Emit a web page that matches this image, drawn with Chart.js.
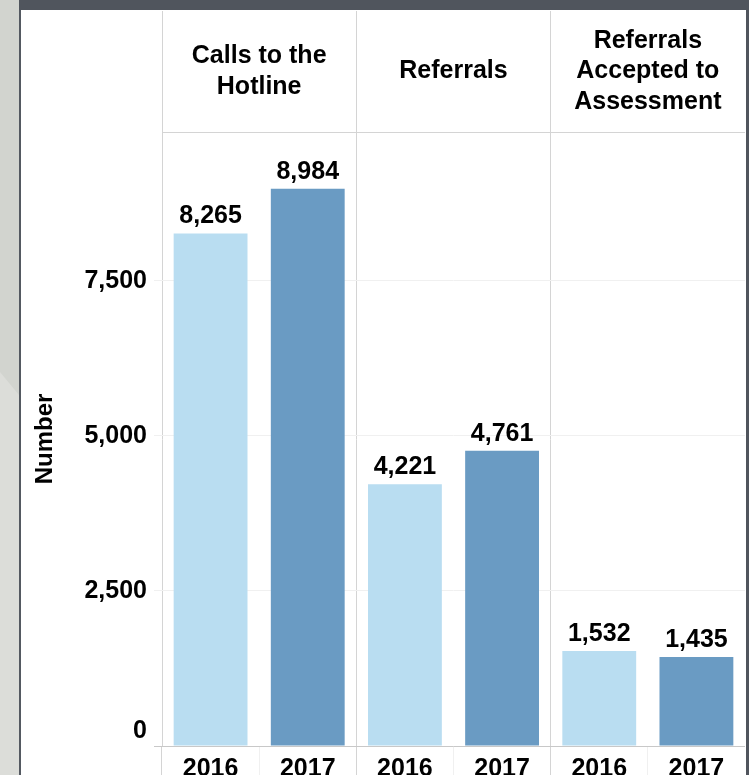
<!DOCTYPE html>
<html>
<head>
<meta charset="utf-8">
<script src="https://cdn.jsdelivr.net/npm/chart.js@4.4.0/dist/chart.umd.min.js"></script>
<style>
    body { margin: 0; width: 749px; height: 775px; overflow: hidden; position: relative; background: #dcddd9; }
    #shade { position: absolute; left: 0; top: 0; width: 19px; height: 775px; background: #d2d4cf; clip-path: polygon(0 0, 19px 0, 19px 395px, 0 372px); }
    #frameL { position: absolute; left: 19px; top: 0; width: 2px; height: 775px; background: #545961; }
    #frameT { position: absolute; left: 19px; top: 0; width: 730px; height: 10px; background: #50555d; }
    #frameR { position: absolute; left: 746px; top: 0; width: 3px; height: 775px; background: #50555d; }
    #panel { position: absolute; left: 21px; top: 10px; width: 725px; height: 765px; background: #fff; }
    #chart { position: absolute; left: 21px; top: 11px; }
</style>
</head>
<body>
<div id="shade"></div>
<div id="frameL"></div>
<div id="frameT"></div>
<div id="frameR"></div>
<div id="panel"></div>
<canvas id="chart" width="724" height="764"></canvas>
<script>
// datos
const categories = [["Calls to the", "Hotline"], ["Referrals"], ["Referrals", "Accepted to", "Assessment"]];
const years = ["2016", "2017"];
const values2016 = [8265, 4221, 1532];
const values2017 = [8984, 4761, 1435];
const yTicks = [0, 2500, 5000, 7500];
const yearLabels = categories.flatMap(() => years);

const lightBlue = '#b9ddf1';
const darkBlue = '#6a9bc3';
const lineGray = '#d4d4d4';
const FONT = '"Liberation Sans", Arial, sans-serif';

Chart.defaults.color = '#000';
Chart.defaults.font.family = FONT;

// etiquetas de valor encima de cada barra
const valueLabels = {
    id: 'valueLabels',
    afterDatasetsDraw(chart) {
        const ctx = chart.ctx;
        ctx.save();
        ctx.font = 'bold 25px ' + FONT;
        ctx.fillStyle = '#000';
        ctx.textAlign = 'center';
        ctx.textBaseline = 'alphabetic';
        chart.data.datasets.forEach((ds, i) => {
            chart.getDatasetMeta(i).data.forEach((bar, j) => {
                ctx.fillText(ds.data[j].toLocaleString('en-US'), bar.x, bar.y - 10);
            });
        });
        ctx.restore();
    }
};

new Chart(document.getElementById('chart').getContext('2d'), {
    type: 'bar',
    data: {
        labels: categories,
        datasets: [
            { label: years[0], data: values2016, backgroundColor: lightBlue },
            { label: years[1], data: values2017, backgroundColor: darkBlue }
        ]
    },
    options: {
        responsive: false,
        animation: false,
        layout: { padding: 0 },
        categoryPercentage: 1,
        barPercentage: 0.76,
        plugins: { legend: { display: false }, tooltip: { enabled: false } },
        scales: {
            x: {
                position: 'top',
                offset: true,
                afterFit: s => { s.height = 121; },
                grid: { offset: true, color: lineGray, lineWidth: 1, tickLength: 121 },
                border: { display: true, color: lineGray },
                ticks: {
                    font: { size: 25, weight: 'bold', lineHeight: 1.22 },
                    crossAlign: 'center',
                    padding: -91,
                    maxRotation: 0,
                    autoSkip: false
                }
            },
            years: {
                type: 'category',
                position: 'bottom',
                labels: yearLabels,
                offset: true,
                afterFit: s => { s.height = 29; },
                grid: {
                    offset: true,
                    drawOnChartArea: false,
                    tickLength: 29,
                    color: c => c.index % 2 === 0 ? lineGray : '#f0f0f0'
                },
                border: { display: false },
                ticks: { font: { size: 25, weight: 'bold' }, padding: -21, maxRotation: 0, autoSkip: false }
            },
            y: {
                min: 0,
                max: 9900,
                afterBuildTicks: s => { s.ticks = yTicks.map(v => ({ value: v })); },
                afterFit: s => { s.width = 141; s.paddingTop = 0; s.paddingBottom = 0; },
                title: { display: true, text: 'Number', font: { size: 24, weight: 'bold' }, padding: { top: 10 } },
                grid: {
                    tickLength: 8,
                    color: c => c.tick && c.tick.value === 0 ? '#c8c8c8' : '#f0f0f0'
                },
                border: { display: false },
                ticks: {
                    padding: 7,
                    font: { size: 25, weight: 'bold' },
                    callback: v => v === 0 ? ['0', ''] : v.toLocaleString('en-US')
                }
            }
        }
    },
    plugins: [valueLabels]
});
</script>
</body>
</html>
